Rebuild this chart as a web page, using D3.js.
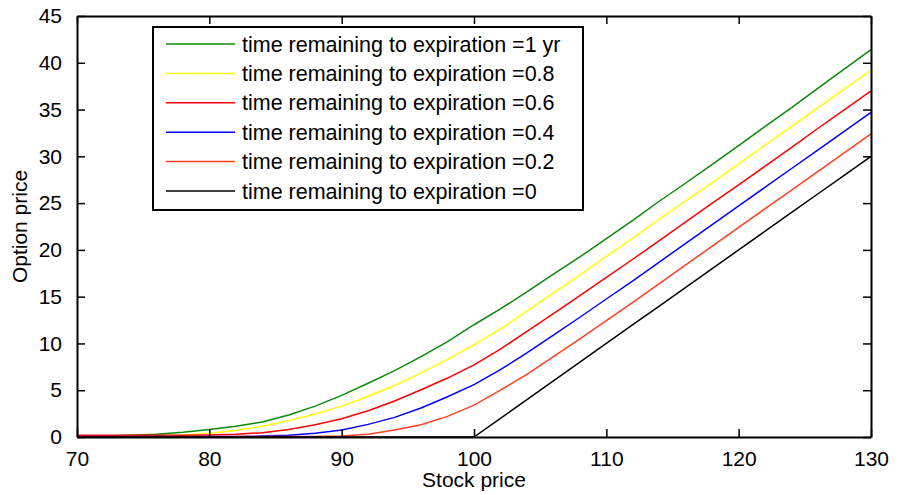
<!DOCTYPE html>
<html>
<head>
<meta charset="utf-8">
<script src="https://cdn.jsdelivr.net/npm/d3@7"></script>
<style>
    body { margin: 0; background: #fff; }
    #root { width: 904px; height: 495px; }
    text { font-family: "Liberation Sans", Arial, sans-serif; fill: #000; }
</style>
</head>
<body>
<div id="root"></div>
<script>

// stock price grid (x axis)
var stockPrice = [70,72,74,76,78,80,82,84,86,88,90,92,94,96,98,100,102,104,106,108,110,112,114,116,118,120,122,124,126,128,130];

// option price, one list per time to expiration
var price1yr = [0.1,0.12,0.18,0.3,0.5,0.8,1.15,1.6,2.35,3.3,4.45,5.75,7.1,8.6,10.2,12.0,13.7,15.5,17.4,19.25,21.2,23.15,25.2,27.15,29.15,31.15,33.2,35.2,37.3,39.35,41.4];
var price08 = [0.05,0.06,0.08,0.12,0.22,0.4,0.7,1.15,1.75,2.45,3.3,4.35,5.5,6.85,8.3,9.85,11.55,13.45,15.4,17.3,19.3,21.25,23.3,25.25,27.2,29.2,31.2,33.2,35.2,37.2,39.2];
var price06 = [0.2,0.2,0.2,0.2,0.2,0.22,0.3,0.45,0.8,1.3,1.95,2.8,3.85,5.05,6.3,7.7,9.4,11.3,13.2,15.1,17.05,19.0,21.0,23.0,25.0,26.95,28.95,30.95,33.0,35.0,37.0];
var price04 = [0.05,0.05,0.05,0.05,0.05,0.05,0.06,0.1,0.2,0.4,0.75,1.35,2.1,3.1,4.3,5.6,7.2,9.0,10.9,12.8,14.75,16.7,18.7,20.7,22.7,24.7,26.7,28.7,30.7,32.7,34.7];
var price02 = [0.05,0.05,0.05,0.05,0.05,0.05,0.05,0.05,0.05,0.05,0.1,0.3,0.75,1.3,2.2,3.4,5.0,6.7,8.6,10.5,12.45,14.4,16.4,18.4,20.4,22.4,24.4,26.4,28.4,30.4,32.4];
var price0 = [0,0,0,0,0,0,0,0,0,0,0,0,0,0,0,0,2,4,6,8,10,12,14,16,18,20,22,24,26,28,30];

var seriesLabels = [
    "time remaining to expiration =1 yr",
    "time remaining to expiration =0.8",
    "time remaining to expiration =0.6",
    "time remaining to expiration =0.4",
    "time remaining to expiration =0.2",
    "time remaining to expiration =0"
];
var seriesValues = [price1yr, price08, price06, price04, price02, price0];

var xTicks = [70,80,90,100,110,120,130];
var yTicks = [0,5,10,15,20,25,30,35,40,45];

function draw(){

    var colors = ["#0a8a0a", "#ffff00", "#ff0000", "#0000ff", "#ff4020", "#000000"];

    d3.select("#root").html("");

    var width = 904, height = 495;
    var margin = {left: 77, top: 16, right: 33, bottom: 58};
    var w = width - margin.left - margin.right,
        h = height - margin.top - margin.bottom;

    var svg = d3.select("#root").append("svg")
        .attr("width", width)
        .attr("height", height);

    var g = svg.append("g")
        .attr("transform", "translate(" + margin.left + "," + margin.top + ")");

    var x = d3.scaleLinear().domain([70, 130]).range([0, w]);
    var y = d3.scaleLinear().domain([0, 45]).range([h, 0]);

    // lines
    var line = d3.line()
        .x(function(d){ return x(d[0]); })
        .y(function(d){ return y(d[1]); });

    seriesValues.forEach(function(vals, i){
        var pts = stockPrice.map(function(s, j){ return [s, vals[j]]; });
        g.append("path")
            .datum(pts)
            .attr("d", line)
            .attr("fill", "none")
            .attr("stroke", colors[i])
            .attr("stroke-width", 1.5);
    });

    // matlab style box: ticks inside on all four sides
    var xBottom = d3.axisBottom(x).tickValues(xTicks).tickSizeInner(-8).tickSizeOuter(0).tickPadding(14);
    var xTop = d3.axisTop(x).tickValues(xTicks).tickSizeInner(-8).tickSizeOuter(0).tickFormat("");
    var yLeft = d3.axisLeft(y).tickValues(yTicks).tickSizeInner(-8).tickSizeOuter(0).tickPadding(15);
    var yRight = d3.axisRight(y).tickValues(yTicks).tickSizeInner(-8).tickSizeOuter(0).tickFormat("");

    function styleAxis(sel){
        sel.select(".domain").attr("stroke", "#000").attr("stroke-width", 2);
        sel.selectAll(".tick line").attr("stroke", "#000").attr("stroke-width", 1.5);
        sel.selectAll("text")
            .style("font-family", '"Liberation Sans", Arial, sans-serif')
            .style("font-size", "21px")
            .attr("fill", "#000");
    }

    g.append("g").attr("transform", "translate(0," + h + ")").call(xBottom).call(styleAxis);
    g.append("g").call(xTop).call(styleAxis);
    g.append("g").call(yLeft).call(styleAxis);
    g.append("g").attr("transform", "translate(" + w + ",0)").call(yRight).call(styleAxis);

    // axis titles
    svg.append("text")
        .attr("x", margin.left + w / 2)
        .attr("y", 487)
        .attr("text-anchor", "middle")
        .style("font-size", "21px")
        .text("Stock price");

    svg.append("text")
        .attr("transform", "translate(27," + (margin.top + h / 2) + ") rotate(-90)")
        .attr("text-anchor", "middle")
        .style("font-size", "21px")
        .text("Option price");

    // legend
    var leg = svg.append("g").attr("transform", "translate(153,27)");
    leg.append("rect")
        .attr("width", 430)
        .attr("height", 183)
        .attr("fill", "#fff")
        .attr("stroke", "#000")
        .attr("stroke-width", 2);

    seriesLabels.forEach(function(lbl, i){
        var ry = 17 + i * 29.4;
        leg.append("line")
            .attr("x1", 13).attr("x2", 82)
            .attr("y1", ry).attr("y2", ry)
            .attr("stroke", colors[i])
            .attr("stroke-width", 1.5);
        leg.append("text")
            .attr("x", 89)
            .attr("y", ry + 7.5)
            .style("font-size", "21.5px")
            .text(lbl);
    });
}

draw();
</script>
</body>
</html>
